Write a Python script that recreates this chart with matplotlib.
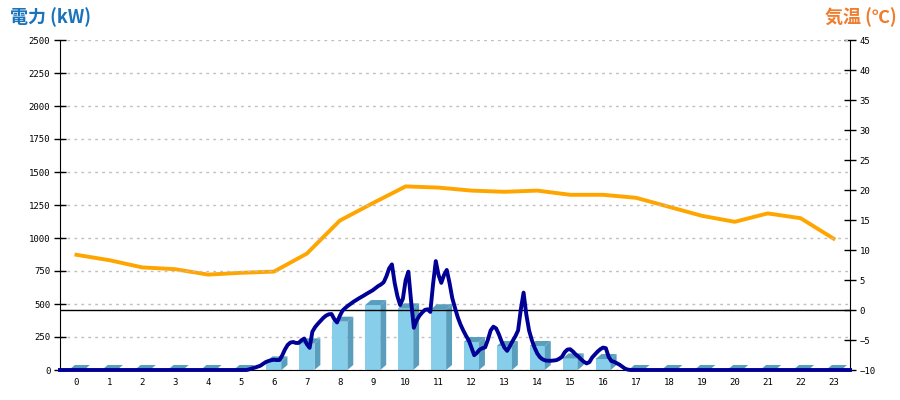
import numpy as np
import matplotlib
matplotlib.use("Agg")
import matplotlib.pyplot as plt
from matplotlib.patches import Polygon
from matplotlib.transforms import blended_transform_factory

plt.rcParams["font.family"] = ["DejaVu Sans Mono", "Noto Sans CJK JP"]

# ======================
# Data
# ======================
hours = list(range(24))
hour_labels = [str(h) for h in hours]

# hourly power (kW), bars
power_hourly = [0, 0, 0, 0, 0, 0, 65, 202, 366, 492, 467, 460,
                212, 182, 182, 88, 83, 0, 0, 0, 0, 0, 0, 0]

# hourly temperature (deg C), orange line
temperature = [9.2, 8.3, 7.1, 6.8, 5.9, 6.2, 6.4, 9.4, 14.9, 17.8, 20.6, 20.4,
               19.9, 19.7, 19.9, 19.2, 19.2, 18.7, 17.2, 15.7, 14.7, 16.1, 15.3, 11.9]

# 5-minute power (kW) from 5:30 to 17:30
power_day = [
    0, 0, 0, 5, 12, 18,                       # 5:30 - 5:55
    25, 32, 46, 60, 68, 74, 78, 75, 76, 110, 155, 190,      # 6:00
    208, 212, 205, 205, 225, 238, 195, 168, 290, 325, 350, 372,   # 7:00
    395, 412, 422, 424, 385, 360, 410, 450, 470, 487, 502, 517,   # 8:00
    530, 543, 555, 567, 580, 592, 604, 620, 636, 648, 665, 710,   # 9:00
    770, 800, 660, 560, 492, 540, 680, 745, 520, 320, 375, 410,   # 10:00
    435, 455, 460, 440, 650, 825, 720, 660, 720, 758, 660, 545,   # 11:00
    470, 400, 345, 300, 260, 225, 170, 112, 130, 155, 165, 172,   # 12:00
    230, 300, 328, 315, 270, 215, 170, 145, 180, 220, 255, 300,   # 13:00
    460, 586, 420, 300, 227, 170, 125, 96, 80, 72, 70, 70,        # 14:00
    72, 75, 85, 100, 135, 155, 157, 140, 118, 101, 80, 62,        # 15:00
    50, 60, 95, 118, 140, 158, 170, 165, 100, 68, 62, 51,         # 16:00
    40, 25, 10, 3, 0, 0, 0,                   # 17:00 - 17:30
]
power_5min = [0] * 66 + power_day + [0] * 78
time_5min = np.arange(len(power_5min)) / 12.0   # hours 0..24

# ======================
# Figure
# ======================
fig = plt.figure(figsize=(9, 4), dpi=100)
ax = fig.add_axes([60 / 900, 30 / 400, 790 / 900, 330 / 400])
ax2 = ax.twinx()
ax.set_zorder(ax2.get_zorder() + 1)
ax.patch.set_visible(False)

ax.set_xlim(-0.5, 23.5)
ax.set_ylim(0, 2500)
ax2.set_ylim(-10, 45)

# grid
ax.set_yticks(range(0, 2501, 250))
ax.yaxis.grid(True, linestyle=(0, (2, 3)), color="#c0c0c0", linewidth=1)
ax.set_axisbelow(True)

# 3D-style bars
bar_w = 0.46
dx = 0.18
dy = 38
front_col = "#87ceeb"
side_col = "#599fbd"
ax.bar(hours, power_hourly, width=bar_w, color=front_col, zorder=2)
for h, v in zip(hours, power_hourly):
    xl, xr = h - bar_w / 2, h + bar_w / 2
    top = Polygon([(xl, v), (xr, v), (xr + dx, v + dy), (xl + dx, v + dy)],
                  closed=True, facecolor=side_col, edgecolor="none", zorder=2)
    ax.add_patch(top)
    if v > 0:
        side = Polygon([(xr, 0), (xr + dx, dy), (xr + dx, v + dy), (xr, v)],
                       closed=True, facecolor=side_col, edgecolor="none", zorder=2)
        ax.add_patch(side)

# 0 deg C line (drawn on power axes, positioned by temperature axis)
trans = blended_transform_factory(ax.transAxes, ax2.transData)
ax.plot([0, 1], [0, 0], color="black", linewidth=1, transform=trans, zorder=3)

# power line
ax.plot(time_5min - 0.5, power_5min, color="#000096", linewidth=2.8,
        solid_joinstyle="round", zorder=4, clip_on=False)

# temperature line
ax2.plot(hours, temperature, color="#ffa500", linewidth=2.8, zorder=3)

# ======================
# Axes styling
# ======================
ax.set_xticks(hours)
ax.set_xticklabels(hour_labels)
ax.tick_params(axis="x", length=0, pad=6, labelsize=6.5)
ax.tick_params(axis="y", direction="inout", length=8, width=1, pad=3, labelsize=6.5)
ax2.set_yticks(range(-10, 46, 5))
ax2.tick_params(axis="y", direction="inout", length=8, width=1, pad=3, labelsize=6.5)

for s in ["top", "right"]:
    ax.spines[s].set_visible(False)
for s in ["top", "left", "bottom"]:
    ax2.spines[s].set_visible(False)
ax.spines["left"].set_color("black")
ax.spines["bottom"].set_color("black")
ax2.spines["right"].set_color("black")

fig.text(10 / 900, 1 - 17 / 400, "電力 (kW)", color="#1a73bb", fontsize=13,
         fontweight="bold", va="center", ha="left",
         family=["Noto Sans CJK JP", "DejaVu Sans"])
fig.text(897 / 900, 1 - 17 / 400, "気温 (℃)", color="#ef7d2d", fontsize=13,
         fontweight="bold", va="center", ha="right",
         family=["Noto Sans CJK JP", "DejaVu Sans"])

fig.savefig("out.png", dpi=100)
